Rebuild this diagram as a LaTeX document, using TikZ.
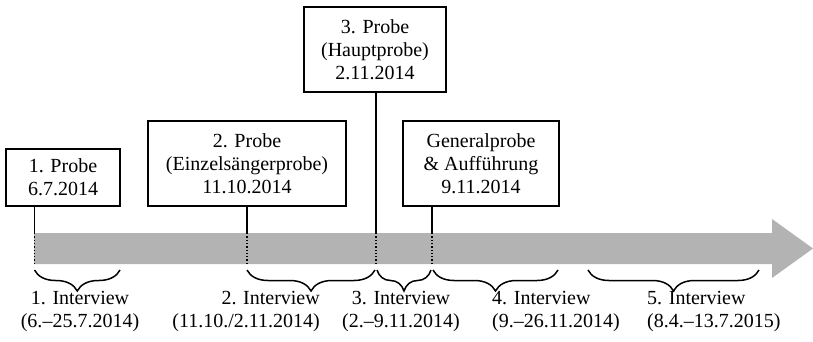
\documentclass[tikz,border=0pt]{standalone}
\usepackage{fontspec}
\setmainfont{Liberation Serif}
\usetikzlibrary{decorations.pathreplacing}
\definecolor{bargray}{RGB}{179,179,179}
\begin{document}
\begin{tikzpicture}[x=1pt,y=-1pt,
  box/.style={draw=black,line width=1.5pt,fill=white,align=center,inner sep=0pt,
    font=\fontsize{20}{23}\selectfont},
  lab/.style={inner sep=0pt,font=\fontsize{20}{23}\selectfont},
  conn/.style={draw=black,line width=1.3pt},
  dots/.style={draw=black,line width=1.3pt,dotted},
  brc/.style={draw=black,line width=1.5pt,decorate,decoration={brace,amplitude=21pt}}]
\useasboundingbox (0,0) rectangle (813,342);
% bar with arrow head
\fill[bargray] (34,233) -- (772,233) -- (772,219) -- (813,248.5) -- (772,278) -- (772,264) -- (34,264) -- cycle;
% boxes
\node[box,minimum width=114pt,minimum height=57pt] (b1) at (63,177.5) {1. Probe\\6.7.2014};
\node[box,minimum width=198pt,minimum height=85pt] (b2) at (247,163.5) {2. Probe\\(Einzelsängerprobe)\\11.10.2014};
\node[box,minimum width=142pt,minimum height=85pt] (b3) at (375,49.5) {3. Probe\\(Hauptprobe)\\2.11.2014};
\node[box,minimum width=156pt,minimum height=85pt] (b4) at (481,163.5) {Generalprobe\\\& Aufführung\\9.11.2014};
% connectors
\coordinate (t1) at (34.5,233); \coordinate (d1) at (34.5,264);
\coordinate (t2) at (247,233);  \coordinate (d2) at (247,264);
\coordinate (t3) at (376,233);  \coordinate (d3) at (376,264);
\coordinate (t4) at (432,233);  \coordinate (d4) at (432,264);
\draw[conn] (b1.south -| t1) -- (t1);
\draw[conn] (b2.south -| t2) -- (t2);
\draw[conn] (b3.south -| t3) -- (t3);
\draw[conn] (b4.south -| t4) -- (t4);
\draw[dots] (t1) -- (d1);
\draw[dots] (t2) -- (d2);
\draw[dots] (t3) -- (d3);
\draw[dots] (t4) -- (d4);
% braces
\coordinate (a1) at (34.5,270); \coordinate (e1) at (120,270);
\coordinate (a2) at (247,270);  \coordinate (e2) at (375,270);
\coordinate (a3) at (377,270);  \coordinate (e3) at (431,270);
\coordinate (a4) at (433,270);  \coordinate (e4) at (558,270);
\coordinate (a5) at (588,270);  \coordinate (e5) at (759,270);
\draw[brc] (e1) -- (a1);
\draw[brc] (e2) -- (a2);
\draw[brc] (e3) -- (a3);
\draw[brc] (e4) -- (a4);
\draw[brc] (e5) -- (a5);
% labels
\node[lab,align=center] (l1) at (80,312) {1. Interview\\(6.–25.7.2014)};
\node[lab,align=right,anchor=east] (l2) at (320,312) {2. Interview\\(11.10./2.11.2014)};
\node[lab,align=center] (l3) at (401,312) {3. Interview\\(2.–9.11.2014)};
\node[lab,align=left,anchor=west] (l4) at (492,312) {4. Interview\\(9.–26.11.2014)};
\node[lab,align=left,anchor=west] (l5) at (647,312) {5. Interview\\(8.4.–13.7.2015)};
\end{tikzpicture}
\end{document}
